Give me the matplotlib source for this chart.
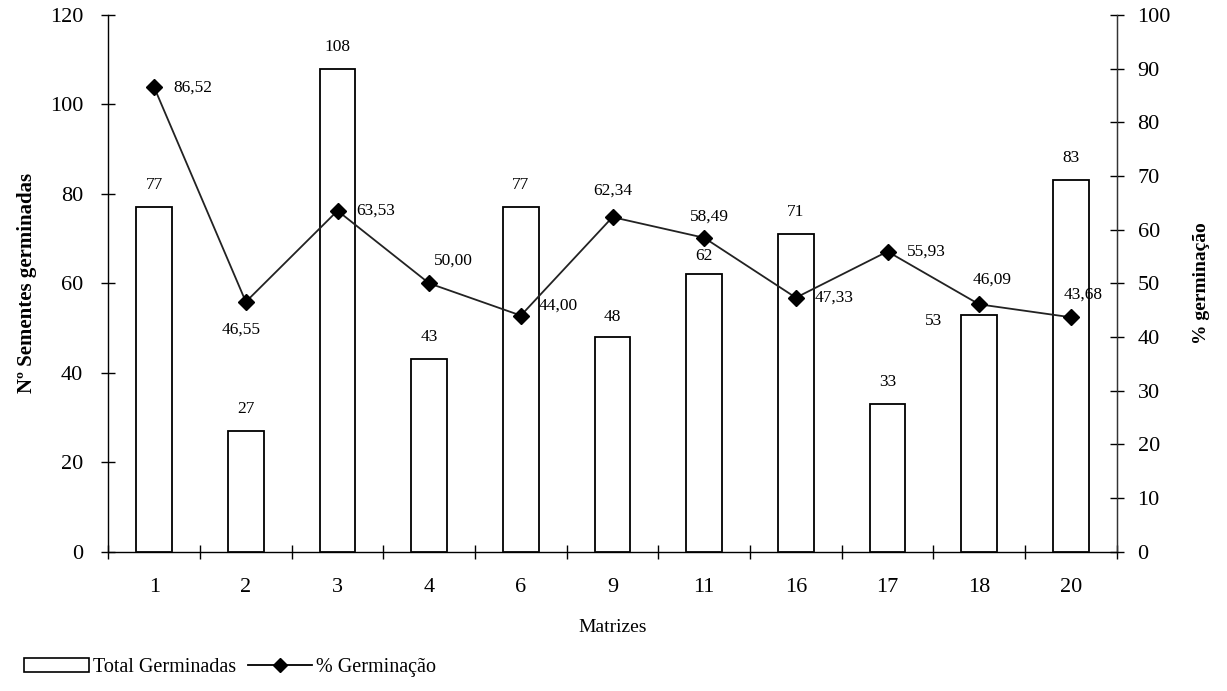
import matplotlib.pyplot as plt
import numpy as np
from matplotlib.lines import Line2D
from matplotlib.patches import Patch

plt.rcParams['font.family'] = ['Liberation Serif', 'DejaVu Serif']

# dados de germinação por matriz
matrizes = ['1', '2', '3', '4', '6', '9', '11', '16', '17', '18', '20']
total_germinadas = [77, 27, 108, 43, 77, 48, 62, 71, 33, 53, 83]
pct_germinacao = [86.52, 46.55, 63.53, 50.00, 44.00, 62.34, 58.49, 47.33, 55.93, 46.09, 43.68]

# deslocamento dos rótulos (pixels) e alinhamento
off_barras = [(0, 22), (0, 22), (0, 22), (0, 22), (0, 22), (0, 20), (0, 18),
              (0, 22), (0, 22), (-46, -6), (0, 22)]
off_pct = [(19, 0, 'left'), (-5, -28, 'center'), (19, 0, 'left'), (24, 23, 'center'),
           (18, 10, 'left'), (0, 26, 'center'), (5, 21, 'center'), (19, 0, 'left'),
           (19, 0, 'left'), (13, 25, 'center'), (12, 23, 'center')]

fig = plt.figure(figsize=(12.27, 6.91), dpi=100)
ax = fig.add_axes([0.0883, 0.2016, 0.8218, 0.7767])
x = np.arange(len(matrizes))

ax.bar(x, total_germinadas, width=0.39, color='white', edgecolor='black', linewidth=1.3, zorder=2)
ax.set_xlim(-0.5, len(matrizes) - 0.5)
ax.set_ylim(0, 120)
ax.set_yticks(range(0, 121, 20))
ax.set_xticks(np.arange(-0.5, len(matrizes), 1))
ax.set_xticklabels([])
ax.set_xticks(x, minor=True)
ax.set_xticklabels(matrizes, minor=True)
ax.tick_params(axis='x', which='major', direction='inout', length=10, width=1)
ax.tick_params(axis='x', which='minor', length=0, pad=19, labelsize=16)
ax.tick_params(axis='y', direction='inout', length=10, width=1, pad=13, labelsize=16)
ax.spines['top'].set_visible(False)
for s in ['left', 'bottom', 'right']:
    ax.spines[s].set_linewidth(1.0)
    ax.spines[s].set_color('#333333')

for i, v in enumerate(total_germinadas):
    dx, dy = off_barras[i]
    ax.annotate(str(v), (x[i], v), xytext=(dx, dy), textcoords='offset pixels',
                ha='center', va='center', fontsize=12.5)

ax.set_xlabel('Matrizes', fontsize=14, labelpad=16)
ax.set_ylabel('Nº Sementes germinadas', fontsize=15, fontweight='bold', labelpad=9)

ax2 = ax.twinx()
ax2.plot(x, pct_germinacao, color='#222222', linewidth=1.3, marker='D', markersize=8,
         markerfacecolor='black', markeredgecolor='black', zorder=3)
ax2.set_ylim(0, 100)
ax2.set_yticks(range(0, 101, 10))
ax2.tick_params(axis='y', direction='inout', length=10, width=1, pad=10, labelsize=16)
ax2.spines['top'].set_visible(False)
ax2.spines['right'].set_color('#333333')
ax2.set_ylabel('% germinação', fontsize=14, fontweight='bold', labelpad=16)

for i, v in enumerate(pct_germinacao):
    dx, dy, ha = off_pct[i]
    ax2.annotate(f'{v:.2f}'.replace('.', ','), (x[i], v), xytext=(dx, dy),
                 textcoords='offset pixels', ha=ha, va='center', fontsize=12.5)

handles = [Patch(facecolor='white', edgecolor='black', linewidth=1.2),
           Line2D([], [], color='black', marker='D', markersize=7, linewidth=1.3)]
fig.legend(handles, ['Total Germinadas', '% Germinação'], loc='lower left',
           bbox_to_anchor=(0.005, -0.006), ncol=2, frameon=False, fontsize=14.5,
           handlelength=3.2, handletextpad=0.2, columnspacing=0.6)

plt.savefig('out.png', dpi=100)
